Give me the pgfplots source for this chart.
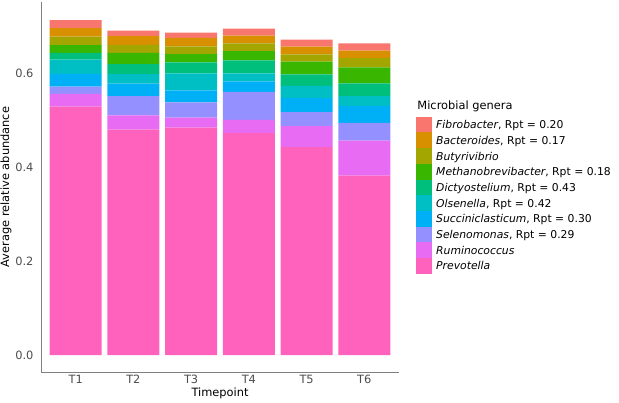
\documentclass[border=0pt]{standalone}
\usepackage{fontspec}
\setmainfont{DejaVu Sans}
\usepackage{pgfplots}
\usepackage{pgfplotstable}
\pgfplotsset{compat=1.18}
\definecolor{cFib}{HTML}{F8766D}
\definecolor{cBac}{HTML}{D89000}
\definecolor{cBut}{HTML}{A3A500}
\definecolor{cMet}{HTML}{39B600}
\definecolor{cDic}{HTML}{00BF7D}
\definecolor{cOls}{HTML}{00BFC4}
\definecolor{cSuc}{HTML}{00B0F6}
\definecolor{cSel}{HTML}{9590FF}
\definecolor{cRum}{HTML}{E76BF3}
\definecolor{cPre}{HTML}{FF62BC}
\pgfplotstableread{
x  Pre    Rum    Sel    Suc    Ols    Dic    Met    But    Bac    Fib
1  0.529  0.027  0.0155 0.027  0.0305 0.014  0.017  0.018  0.018  0.017
2  0.480  0.0305 0.0405 0.027  0.020  0.0213 0.024  0.017  0.019  0.0115
3  0.484  0.0213 0.0326 0.0256 0.0362 0.0234 0.0177 0.0164 0.0177 0.0115
4  0.4724 0.0281 0.0596 0.0224 0.017  0.0277 0.0198 0.0164 0.0164 0.0149
5  0.4426 0.0447 0.0298 0.0298 0.0264 0.0241 0.027  0.0155 0.0164 0.0149
6  0.3823 0.0745 0.0373 0.0358 0.0211 0.0273 0.0341 0.0198 0.0158 0.0155
}\datatab
\pgfplotsset{
  seg/.style={fill=#1, draw=none,
    legend image code/.code={\fill[#1] (0pt,-3.8pt) rectangle (16pt,11.9pt);}},
}
\begin{document}
\begin{tikzpicture}[font=\fontsize{11.4pt}{13.7pt}\selectfont]
\path[use as bounding box] (0,0) rectangle (619pt,403pt);
\begin{axis}[
  at={(41pt,31pt)}, anchor=south west,
  scale only axis, width=358pt, height=370pt,
  xmin=0.4, xmax=6.6, ymin=-0.0357, ymax=0.7515,
  clip=false,
  axis x line*=bottom, axis y line*=left,
  axis line style={black!50, line width=0.9pt},
  ybar stacked, bar width=0.9,
  xtick={1,2,3,4,5,6}, xticklabels={T1,T2,T3,T4,T5,T6},
  ytick={0,0.2,0.4,0.6},
  major tick length=0pt,
  /pgf/number format/assume math mode=true,
  yticklabel style={/pgf/number format/.cd, fixed, fixed zerofill, precision=1, /tikz/.cd, xshift=-4pt, text=black!70},
  xticklabel style={text=black!70},
  xlabel={Timepoint}, ylabel={Average relative abundance},
  x label style={at={(axis description cs:0.5,0)}, anchor=center, yshift=-21pt},
  y label style={at={(axis description cs:-0.0978,0.5)}, anchor=center},
  reverse legend,
  legend cell align=left,
  legend style={at={(axis description cs:1.0475,0.6905)}, anchor=north west,
    draw=none, fill=none, inner sep=0pt, row sep=0pt, column sep=4pt,
    nodes={inner sep=0pt, text height=11.9pt, text depth=3.8pt, anchor=base west},
    font=\fontsize{10.8pt}{13pt}\selectfont},
]
\addplot[seg=cPre] table[x=x, y=Pre] {\datatab};
\addplot[seg=cRum] table[x=x, y=Rum] {\datatab};
\addplot[seg=cSel] table[x=x, y=Sel] {\datatab};
\addplot[seg=cSuc] table[x=x, y=Suc] {\datatab};
\addplot[seg=cOls] table[x=x, y=Ols] {\datatab};
\addplot[seg=cDic] table[x=x, y=Dic] {\datatab};
\addplot[seg=cMet] table[x=x, y=Met] {\datatab};
\addplot[seg=cBut] table[x=x, y=But] {\datatab};
\addplot[seg=cBac] table[x=x, y=Bac] {\datatab};
\addplot[seg=cFib] table[x=x, y=Fib] {\datatab};
\legend{{\textit{Prevotella}}, {\textit{Ruminococcus}}, {\textit{Selenomonas}, Rpt = 0.29},
  {\textit{Succiniclasticum}, Rpt = 0.30}, {\textit{Olsenella}, Rpt = 0.42},
  {\textit{Dictyostelium}, Rpt = 0.43}, {\textit{Methanobrevibacter}, Rpt = 0.18},
  {\textit{Butyrivibrio}}, {\textit{Bacteroides}, Rpt = 0.17}, {\textit{Fibrobacter}, Rpt = 0.20}}
\node[anchor=base west, inner sep=0pt] at (axis description cs:1.0511,0.7081) {Microbial genera};
\end{axis}
\end{tikzpicture}
\end{document}
